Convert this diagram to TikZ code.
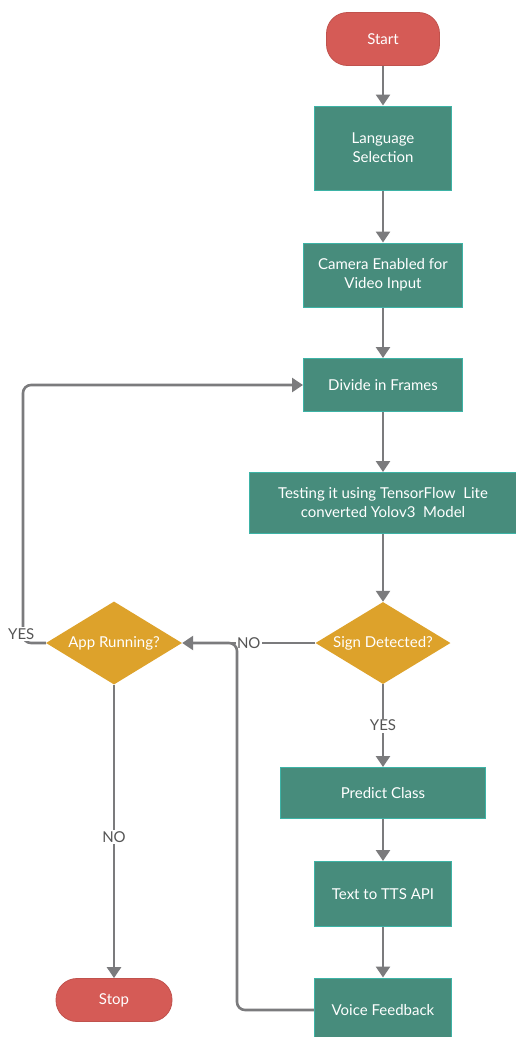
\documentclass[tikz,border=0pt]{standalone}
\usepackage{fontspec}
\setmainfont{Lato}
\usepackage{tikz}
\usetikzlibrary{arrows.meta, shapes, positioning, calc}
\definecolor{tealbox}{HTML}{478C7C}
\definecolor{tealedge}{HTML}{3DB3A6}
\definecolor{gold}{HTML}{DDA22B}
\definecolor{redend}{HTML}{D55B56}
\definecolor{linegray}{HTML}{7B7B7D}
\definecolor{lblgray}{HTML}{555555}
\tikzset{
  term/.style={rectangle, rounded corners=21pt, draw=redend!90!black, fill=redend,
               line width=0.8pt, text=white, font=\fontsize{15}{17}\selectfont},
  proc/.style={rectangle, draw=tealedge, fill=tealbox, line width=1pt,
               text=white, align=center, inner sep=0pt,
               font=\fontsize{15}{19}\selectfont},
  dec/.style={diamond, fill=gold, text=white, inner sep=0pt, aspect=1.65,
              font=\fontsize{15}{17}\selectfont},
  lbl/.style={fill=white, text=lblgray, inner sep=1.5pt,
              font=\fontsize{15}{17}\selectfont},
  arc/.style={-{Triangle[length=11pt, width=14pt]}, line width=2.6pt, draw=linegray},
  ln/.style={line width=2.6pt, draw=linegray, rounded corners=8pt}
}
\begin{document}
\begin{tikzpicture}[x=1pt, y=-1pt]
  \useasboundingbox (0,0) rectangle (516,1037);
  % main column
  \node[term, minimum width=113pt, minimum height=53pt] (start) at (383,39) {Start};
  \node[proc, minimum width=137pt, minimum height=84pt] (lang) at (383,148) {Language\\Selection};
  \node[proc, minimum width=159pt, minimum height=64pt] (cam) at (383,275) {Camera Enabled for\\Video Input};
  \node[proc, minimum width=159pt, minimum height=53pt] (div) at (383,385) {Divide in Frames};
  \node[proc, minimum width=268pt, minimum height=61pt] (test) at (383,503) {Testing it using TensorFlow\ \ Lite\\converted Yolov3\ \ Model};
  \node[dec, minimum width=135pt, minimum height=82pt] (sign) at (383,643) {Sign Detected?};
  \node[proc, minimum width=205pt, minimum height=51pt] (pred) at (383,793) {Predict Class};
  \node[proc, minimum width=137pt, minimum height=65pt] (tts) at (383,894) {Text to TTS API};
  \node[proc, minimum width=137pt, minimum height=64pt] (voice) at (383,1010) {Voice Feedback};
  % left column
  \node[dec, minimum width=136pt, minimum height=83pt] (app) at (114,643) {App Running?};
  \node[term, minimum width=116pt, minimum height=43pt] (stop) at (114,1000) {Stop};
  \coordinate (cyes) at (23,643);
  \coordinate (cfb) at (237,1010);

  \foreach \a/\b in {start/lang, lang/cam, cam/div, div/test, test/sign, tts/voice, pred/tts}
    \draw[arc] (\a) -- (\b);
  \draw[arc] (sign) -- node[lbl, pos=0.5] {YES} (pred);
  \draw[arc] (sign) -- node[lbl, pos=0.5] {NO} (app);
  \draw[arc] (app) -- node[lbl, pos=0.52] {NO} (stop);
  \draw[arc, rounded corners=8pt] (app.west) -- (cyes) |- (div.west);
  \node[lbl, anchor=east] at ($(cyes)+(13,-9)$) {YES};
  \draw[ln] (voice.west) -- (cfb) |- ($(app.east)+(10,0)$);
\end{tikzpicture}
\end{document}
